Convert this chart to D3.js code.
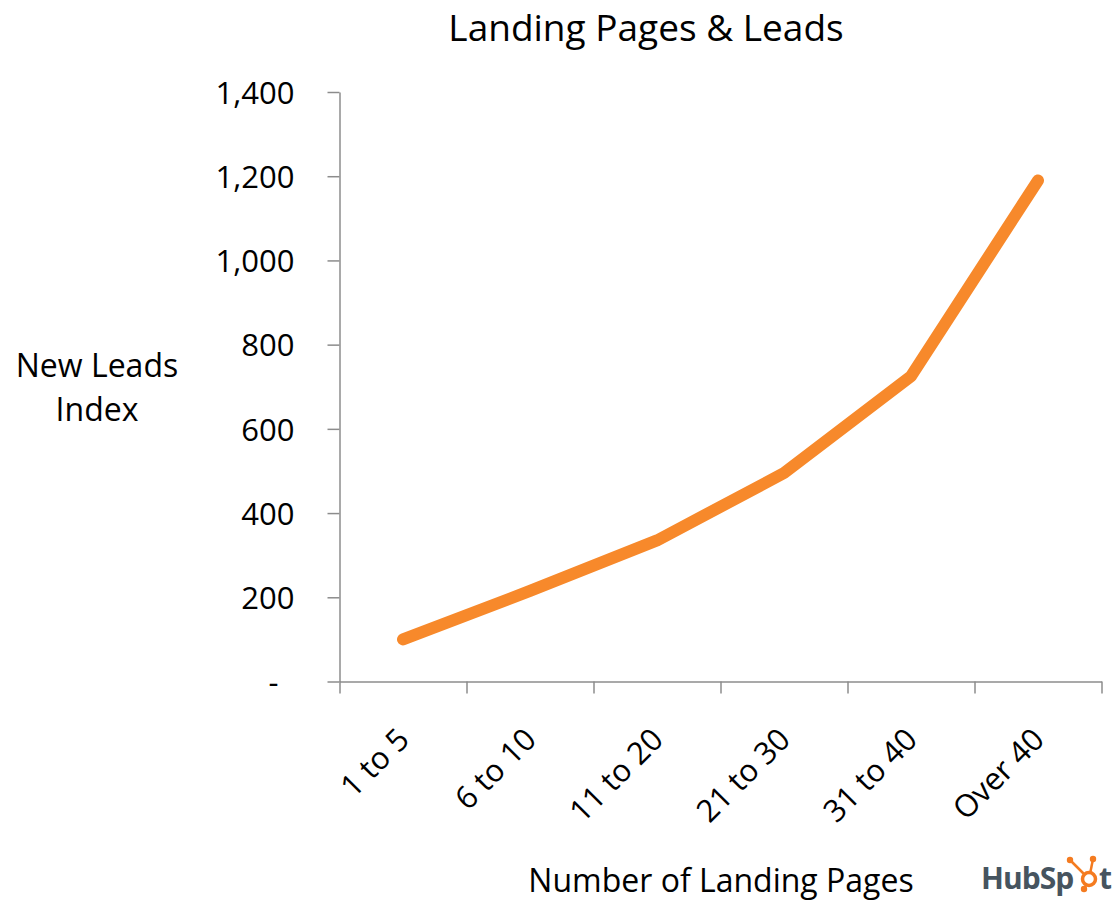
<!DOCTYPE html>
<html>
<head>
<meta charset="utf-8">
<script src="https://cdn.jsdelivr.net/npm/d3@7"></script>
<style>
  body { margin: 0; background: #fff; }
  text { font-family: "Open Sans", Lato, sans-serif; fill: #000; }
  .axis path, .axis line { stroke: #8c8c8c; stroke-width: 1.5; }
</style>
</head>
<body>
<div class="viz"></div>
<script>
// data
const categories = ["1 to 5", "6 to 10", "11 to 20", "21 to 30", "31 to 40", "Over 40"];
const leadsIndex = [100, 215, 335, 495, 725, 1190];
const yTicks = [0, 200, 400, 600, 800, 1000, 1200, 1400];

const width = 1120, height = 900;
const plot = { left: 339.5, right: 1101.5, top: 92, bottom: 681.5 };
const fontSize = "31px";

var svg = d3.select(".viz")
  .append("svg")
  .attr("width", width)
  .attr("height", height);

// title
svg.append("text")
  .attr("x", 646)
  .attr("y", 41)
  .attr("text-anchor", "middle")
  .style("font-size", "37px")
  .text("Landing Pages & Leads");

// scales
var xscale = d3.scaleBand()
  .domain(categories)
  .range([plot.left, plot.right]);

var yscale = d3.scaleLinear()
  .domain([0, 1400])
  .range([plot.bottom, plot.top]);

// y axis
var yaxis = d3.axisLeft(yscale)
  .tickValues(yTicks)
  .tickSize(12)
  .tickSizeOuter(0)
  .tickPadding(33)
  .tickFormat((d) => d === 0 ? "-" : d3.format(",")(d));

var yg = svg.append("g")
  .attr("class", "axis")
  .attr("transform", "translate(" + plot.left + ",0)")
  .call(yaxis);

yg.selectAll("text")
  .style("font-size", fontSize)
  .style("font-family", "'Open Sans', sans-serif")
  .attr("fill", "#000")
  .attr("dy", "0.36em");
// the zero label sits a bit further left, like a spreadsheet dash
yg.selectAll(".tick")
  .filter((d) => d === 0)
  .select("text")
  .attr("x", -61);

// x axis: ticks on the category boundaries
var edges = categories.map((c) => xscale(c)).concat([plot.right]);
var xedge = d3.scaleLinear()
  .domain([plot.left, plot.right])
  .range([plot.left, plot.right]);

var xaxis = d3.axisBottom(xedge)
  .tickValues(edges)
  .tickSize(12)
  .tickSizeOuter(0)
  .tickFormat("");

svg.append("g")
  .attr("class", "axis")
  .attr("transform", "translate(0," + plot.bottom + ")")
  .call(xaxis);

// rotated category labels
svg.append("g")
  .selectAll("text")
  .data(categories)
  .enter()
  .append("text")
  .attr("text-anchor", "end")
  .style("font-size", fontSize)
  .attr("transform", (d) => "translate(" + (xscale(d) + xscale.bandwidth() / 2 + 8) + "," + (plot.bottom + 60) + ") rotate(-45)")
  .text((d) => d);

// axis titles
svg.append("text")
  .attr("x", 97)
  .attr("y", 377)
  .attr("text-anchor", "middle")
  .style("font-size", "32px")
  .text("New Leads");
svg.append("text")
  .attr("x", 97)
  .attr("y", 421)
  .attr("text-anchor", "middle")
  .style("font-size", "32px")
  .text("Index");

svg.append("text")
  .attr("x", 721)
  .attr("y", 892)
  .attr("text-anchor", "middle")
  .style("font-size", "32px")
  .text("Number of Landing Pages");

// the line
var line = d3.line()
  .x((d, i) => xscale(categories[i]) + xscale.bandwidth() / 2)
  .y((d) => yscale(d));

svg.append("path")
  .datum(leadsIndex)
  .attr("d", line)
  .attr("fill", "none")
  .attr("stroke", "#f7892b")
  .attr("stroke-width", 12)
  .attr("stroke-linecap", "round")
  .attr("stroke-linejoin", "round");

// HubSpot mark
var logo = svg.append("g").attr("class", "logo");
logo.append("text")
  .attr("x", 981)
  .attr("y", 889)
  .style("font-size", "30px")
  .style("font-weight", "bold")
  .style("letter-spacing", "-1px")
  .style("fill", "#46545f")
  .text("HubSp");
logo.append("text")
  .attr("x", 1099)
  .attr("y", 889)
  .style("font-size", "30px")
  .style("font-weight", "bold")
  .style("fill", "#46545f")
  .text("t");

var sprocket = logo.append("g").attr("transform", "translate(1089,879)");
[[4, -20], [-19, -19], [-5, 10]].forEach(function (p) {
  sprocket.append("line")
    .attr("x1", 0).attr("y1", 0)
    .attr("x2", p[0]).attr("y2", p[1])
    .attr("stroke", "#f47b20")
    .attr("stroke-width", 2.5);
  sprocket.append("circle")
    .attr("cx", p[0]).attr("cy", p[1])
    .attr("r", 3.2)
    .attr("fill", "#f47b20");
});
sprocket.append("circle")
  .attr("r", 6.5)
  .attr("fill", "#fff")
  .attr("stroke", "#f47b20")
  .attr("stroke-width", 3.5);
</script>
</body>
</html>
